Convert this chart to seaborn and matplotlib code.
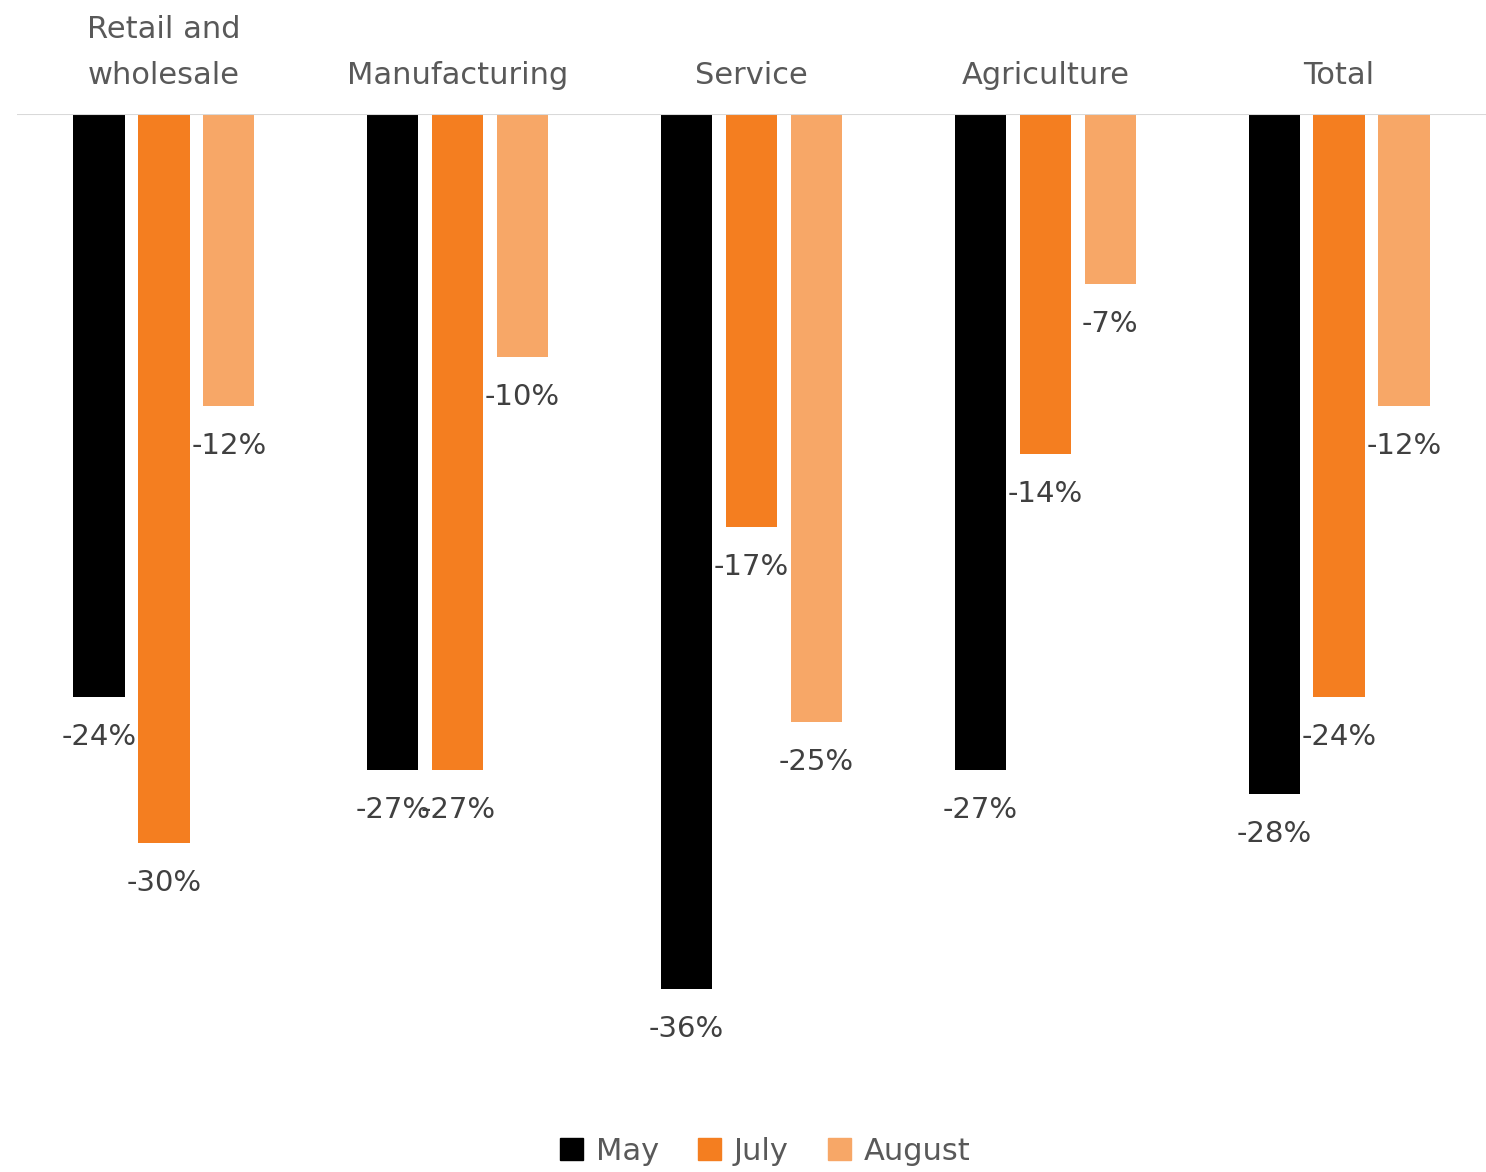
import matplotlib
matplotlib.use("Agg")
import matplotlib.pyplot as plt
import seaborn as sns
import pandas as pd

categories = ["Retail and\nwholesale", "Manufacturing", "Service", "Agriculture", "Total"]
months = ["May", "July", "August"]
may_values = [-24, -27, -36, -27, -28]
july_values = [-30, -27, -17, -14, -24]
august_values = [-12, -10, -25, -7, -12]

palette = {"May": "#000000", "July": "#F47E20", "August": "#F7A767"}

rows = []
for series, vals in zip(months, [may_values, july_values, august_values]):
    for cat, v in zip(categories, vals):
        rows.append({"category": cat, "month": series, "value": v})
df = pd.DataFrame(rows)

sns.set_theme(style="white")
plt.rcParams["font.family"] = ["DejaVu Sans"]

W, H = 1486, 1172
fig = plt.figure(figsize=(W / 100, H / 100), dpi=100)
ax_top = 114
ax_bottom = 1086
ax_left = 17
ax_right = 1486
ax = fig.add_axes([ax_left / W, 1 - ax_bottom / H, (ax_right - ax_left) / W, (ax_bottom - ax_top) / H])

sns.barplot(data=df, x="category", y="value", hue="month", hue_order=months,
            order=categories, palette=palette, width=0.663, gap=0.21,
            saturation=1, linewidth=0, ax=ax, legend=False)

ax.set_xlim(-0.5, 4.5)
ax.set_ylim(-40, 0)
for s in ax.spines.values():
    s.set_visible(False)
ax.axhline(0, color="#D9D9D9", lw=1.5, zorder=5)
ax.set_xlabel("")
ax.set_ylabel("")
ax.set_yticks([])
ax.set_xticks([])

label_color = "#404040"
for container in ax.containers:
    for bar in container:
        v = bar.get_y() + bar.get_height()
        xc = bar.get_x() + bar.get_width() / 2
        ax.annotate(f"{v:.0f}%", xy=(xc, v), xytext=(0, -40), textcoords="offset pixels",
                    ha="center", va="center", fontsize=21, color=label_color)

# category names above the zero line
for i, cat in enumerate(categories):
    ax.annotate(cat, xy=(i, 0), xytext=(0, 24), textcoords="offset pixels",
                ha="center", va="bottom", fontsize=22, color="#595959",
                linespacing=1.75)

handles = [plt.Rectangle((0, 0), 1, 1, color=palette[m]) for m in months]
fig.legend(handles, months, loc="lower center", bbox_to_anchor=(0.515, -0.018), ncol=3,
           frameon=False, fontsize=22, handlelength=0.75, handleheight=0.75,
           handletextpad=0.4, columnspacing=1.3, labelcolor="#595959")

fig.savefig("out.png", dpi=100, facecolor="white")
